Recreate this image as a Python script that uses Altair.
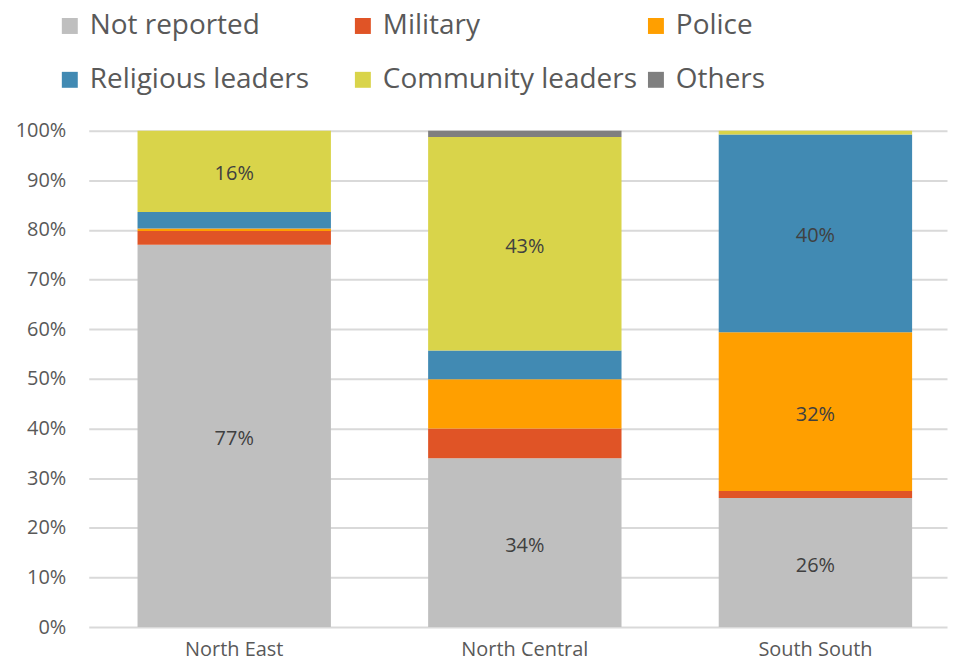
import altair as alt
import pandas as pd

regions = ["North East", "North Central", "South South"]
categories = ["Not reported", "Military", "Police", "Religious leaders", "Community leaders", "Others"]
colors = ["#BFBFBF", "#E05426", "#FF9F00", "#418AB3", "#D9D44A", "#7F7F7F"]

not_reported = [77.0, 34.0, 26.0]
military = [2.8, 6.0, 1.4]
police = [0.5, 9.9, 32.0]
religious = [3.3, 5.8, 39.8]
community = [16.4, 43.0, 0.8]
others = [0.0, 1.3, 0.0]

# which segments carry a value label
labeled = {
    ("North East", "Not reported"), ("North East", "Community leaders"),
    ("North Central", "Not reported"), ("North Central", "Community leaders"),
    ("South South", "Not reported"), ("South South", "Police"), ("South South", "Religious leaders"),
}

series = [not_reported, military, police, religious, community, others]
rows = []
for ci, (cat, vals) in enumerate(zip(categories, series)):
    for ri, reg in enumerate(regions):
        v = vals[ri]
        rows.append({
            "region": reg, "category": cat, "idx": ci, "value": v / 100.0,
            "label": f"{round(v):d}%" if (reg, cat) in labeled else "",
        })
df = pd.DataFrame(rows)

FONT = "Open Sans"

x_enc = alt.X("region:N", sort=regions, title=None,
              scale=alt.Scale(paddingInner=0.3345, paddingOuter=0.144, align=0.583),
              axis=alt.Axis(labelAngle=0, labelFontSize=20, labelColor="#595959", labelFont=FONT,
                            domain=False, ticks=False, labelPadding=13))

bars = alt.Chart(df).mark_bar().encode(
    x=x_enc,
    y=alt.Y("value:Q", stack="zero", title=None,
            scale=alt.Scale(domain=[0, 1], nice=False),
            axis=alt.Axis(format=".0%", values=[i / 10 for i in range(11)], labelFontSize=20,
                          labelColor="#595959", labelFont=FONT, domain=False, ticks=False,
                          labelPadding=23, grid=True, gridColor="#D9D9D9", gridWidth=2)),
    color=alt.Color("category:N", sort=categories,
                    scale=alt.Scale(domain=categories, range=colors),
                    legend=alt.Legend(title=None, orient="none", legendX=-33, legendY=-119,
                                      direction="horizontal", columns=3, gridAlign="all",
                                      symbolType="square", symbolSize=256, symbolStrokeWidth=0,
                                      labelFontSize=28, labelFont=FONT, labelColor="#595959",
                                      labelOffset=6, columnPadding=4, rowPadding=26,
                                      labelLimit=400, padding=0)),
    order=alt.Order("idx:Q", sort="ascending"),
)

labels = alt.Chart(df).transform_stack(
    stack="value", groupby=["region"], as_=["y0", "y1"],
    sort=[alt.SortField("idx", order="ascending")],
).transform_calculate(
    mid="(datum.y0 + datum.y1) / 2"
).transform_filter("datum.label != ''").mark_text(
    fontSize=20, font=FONT, color="#404040", dy=3
).encode(
    x=alt.X("region:N", sort=regions),
    y=alt.Y("mid:Q"),
    text="label:N",
)

chart = alt.layer(bars, labels).properties(
    width=861, height=498,
    padding={"left": 81, "top": 122, "right": 3, "bottom": 35},
    autosize=alt.AutoSizeParams(type="none"),
).configure_view(stroke=None)

chart.save("out.html", embed_options={"renderer": "svg", "actions": False})
